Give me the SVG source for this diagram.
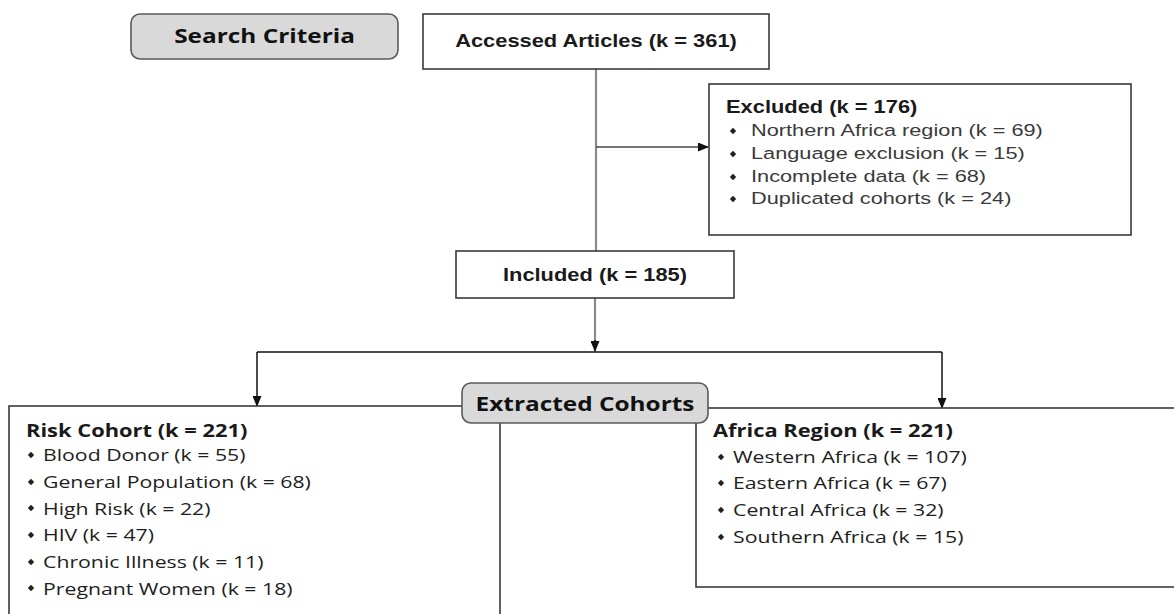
<svg xmlns="http://www.w3.org/2000/svg" width="1174" height="614" viewBox="0 0 1174 614">
<defs>
<style>
.box{fill:#fff;stroke:#3a3a3a;stroke-width:1.6}
.pill{fill:#d9d9d9;stroke:#5a5a5a;stroke-width:1.6}
.hb{font-family:"Liberation Sans",Arial,sans-serif;font-weight:bold;font-size:17.5px;fill:#1a1a1a}
.hr{font-family:"Liberation Sans",Arial,sans-serif;font-size:17.4px;fill:#3a3a3a}
.ob{font-family:"Open Sans","DejaVu Sans",sans-serif;font-weight:bold;font-size:17.5px;fill:#1a1a1a}
.or{font-family:"Open Sans","DejaVu Sans",sans-serif;font-size:17px;fill:#1e1e1e}
.lbl{font-family:"Open Sans","DejaVu Sans",sans-serif;font-weight:bold;font-size:19.5px;fill:#111}
.ln{fill:none;stroke:#111;stroke-width:1.5}
.gl{fill:none;stroke:#8a8a8a;stroke-width:2.2}
.dot{fill:#222}
</style>
<marker id="ah" markerWidth="11" markerHeight="9" refX="10" refY="4.5" orient="auto" markerUnits="userSpaceOnUse">
<path d="M0,0 L11,4.5 L0,9 Z" fill="#111"/>
</marker>
<path id="bul" d="M0,-3.2 L3.2,0 L0,3.2 L-3.2,0 Z"/>
</defs>

<g id="connectors">
<line class="gl" x1="596" y1="69" x2="596" y2="251"/>
<line class="ln" x1="596" y1="147" x2="708" y2="147" style="stroke:#444" marker-end="url(#ah)"/>
<line class="gl" x1="595" y1="298" x2="595" y2="345"/>
<line class="ln" x1="595" y1="340" x2="595" y2="351" marker-end="url(#ah)"/>
<polyline class="ln" points="257,352 942,352"/>
<line class="ln" x1="257" y1="352" x2="257" y2="406" marker-end="url(#ah)"/>
<line class="ln" x1="942" y1="352" x2="942" y2="408" marker-end="url(#ah)"/>
</g>

<g id="search-criteria">
<rect class="pill" x="131" y="14" width="267" height="45" rx="9"/>
<text class="lbl" text-anchor="middle" transform="translate(264.5,43) scale(1.25,1)">Search Criteria</text>
</g>

<g id="accessed">
<rect class="box" x="423" y="14" width="346" height="55"/>
<text class="hb" text-anchor="middle" transform="translate(596,47) scale(1.25,1)">Accessed Articles (k = 361)</text>
</g>

<g id="excluded">
<rect class="box" x="709" y="84" width="422" height="151"/>
<text class="hb" transform="translate(726,113) scale(1.25,1)">Excluded (k = 176)</text>
<use href="#bul" class="dot" x="733" y="131"/>
<text class="hr" transform="translate(751,136) scale(1.25,1)">Northern Africa region (k = 69)</text>
<use href="#bul" class="dot" x="733" y="154"/>
<text class="hr" transform="translate(751,159) scale(1.25,1)">Language exclusion (k = 15)</text>
<use href="#bul" class="dot" x="733" y="177"/>
<text class="hr" transform="translate(751,182) scale(1.25,1)">Incomplete data (k = 68)</text>
<use href="#bul" class="dot" x="733" y="199"/>
<text class="hr" transform="translate(751,204) scale(1.25,1)">Duplicated cohorts (k = 24)</text>
</g>

<g id="included">
<rect class="box" x="456" y="251" width="278" height="47"/>
<text class="hb" text-anchor="middle" transform="translate(595,281) scale(1.25,1)">Included (k = 185)</text>
</g>

<g id="risk-cohort">
<rect class="box" x="9" y="406" width="491" height="230"/>
<text class="ob" transform="translate(26,437) scale(1.25,1)">Risk Cohort (k = 221)</text>
<use href="#bul" class="dot" x="31" y="455"/>
<text class="or" transform="translate(43,461) scale(1.25,1)">Blood Donor (k = 55)</text>
<use href="#bul" class="dot" x="31" y="482"/>
<text class="or" transform="translate(43,488) scale(1.25,1)">General Population (k = 68)</text>
<use href="#bul" class="dot" x="31" y="508"/>
<text class="or" transform="translate(43,514.5) scale(1.25,1)">High Risk (k = 22)</text>
<use href="#bul" class="dot" x="31" y="535"/>
<text class="or" transform="translate(43,541) scale(1.25,1)">HIV (k = 47)</text>
<use href="#bul" class="dot" x="31" y="562"/>
<text class="or" transform="translate(43,568) scale(1.25,1)">Chronic Illness (k = 11)</text>
<use href="#bul" class="dot" x="31" y="588"/>
<text class="or" transform="translate(43,594.5) scale(1.25,1)">Pregnant Women (k = 18)</text>
</g>

<g id="africa-region">
<rect class="box" x="696" y="408" width="500" height="179"/>
<text class="ob" transform="translate(713,437) scale(1.25,1)">Africa Region (k = 221)</text>
<use href="#bul" class="dot" x="721" y="457"/>
<text class="or" transform="translate(733,463) scale(1.25,1)">Western Africa (k = 107)</text>
<use href="#bul" class="dot" x="721" y="483"/>
<text class="or" transform="translate(733,489) scale(1.25,1)">Eastern Africa (k = 67)</text>
<use href="#bul" class="dot" x="721" y="510"/>
<text class="or" transform="translate(733,516) scale(1.25,1)">Central Africa (k = 32)</text>
<use href="#bul" class="dot" x="721" y="537"/>
<text class="or" transform="translate(733,543) scale(1.25,1)">Southern Africa (k = 15)</text>
</g>

<g id="extracted-cohorts">
<rect class="pill" x="462" y="383" width="246" height="40" rx="9"/>
<text class="lbl" text-anchor="middle" transform="translate(585,411) scale(1.25,1)">Extracted Cohorts</text>
</g>
</svg>
